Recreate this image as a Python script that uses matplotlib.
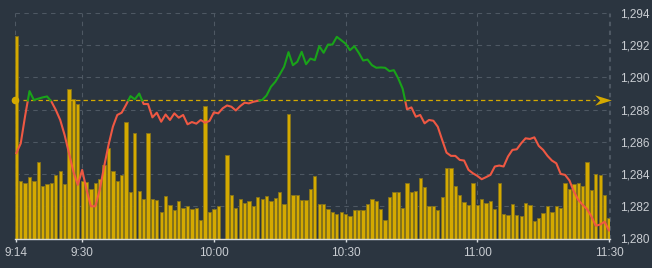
import numpy as np
import matplotlib
matplotlib.use('Agg')
import matplotlib.pyplot as plt
from matplotlib.path import Path
from matplotlib.transforms import blended_transform_factory

#---------------------------------------------------------
# data (one point / bar per minute)
#---------------------------------------------------------

price = [
    1285.3, 1285.9, 1287.6, 1289.15, 1288.6, 1288.68, 1288.76, 1288.82, 1288.5, 1287.98,
    1287.36, 1286.43, 1285.29, 1284.16, 1283.33, 1284.26, 1283.02, 1282.0, 1282.0, 1283.02,
    1284.47, 1285.8, 1286.94, 1287.67, 1287.81, 1288.3, 1288.84, 1288.64, 1289.0, 1288.35,
    1288.35, 1287.52, 1287.81, 1287.25, 1287.7, 1287.36, 1287.77, 1287.5, 1287.67, 1287.09,
    1287.23, 1287.13, 1287.36, 1287.19, 1287.3, 1287.83, 1287.77, 1288.08, 1288.26, 1288.18,
    1287.95, 1288.22, 1288.43, 1288.39, 1288.49, 1288.55, 1288.6, 1288.88, 1289.42, 1289.73,
    1290.18, 1290.66, 1291.57, 1290.76, 1290.97, 1291.59, 1290.82, 1291.17, 1291.07, 1291.94,
    1291.53, 1292.04, 1292.04, 1292.52, 1292.31, 1292.1, 1291.69, 1291.94, 1291.53, 1291.05,
    1291.11, 1290.76, 1290.6, 1290.62, 1290.6, 1290.39, 1290.45, 1289.94, 1289.3, 1288.02,
    1288.14, 1287.56, 1287.67, 1287.15, 1287.36, 1287.31, 1286.94, 1286.12, 1285.33, 1285.13,
    1285.13, 1284.88, 1284.84, 1284.26, 1284.05, 1283.89, 1283.68, 1283.81, 1283.95, 1284.47,
    1284.53, 1284.47, 1285.09, 1285.5, 1285.54, 1285.91, 1286.22, 1286.18, 1286.28, 1285.75,
    1285.5, 1285.13, 1284.84, 1284.67, 1284.01, 1283.95, 1283.6, 1282.92, 1282.4, 1282.09,
    1281.82, 1281.37, 1280.79, 1280.87, 1281.04, 1280.5,
]

volume = [
    203, 58, 56, 62, 58, 77, 53, 55, 56, 64,
    68, 55, 150, 140, 135, 58, 57, 50, 56, 60,
    74, 91, 68, 58, 64, 117, 47, 106, 48, 40,
    106, 40, 39, 27, 43, 34, 29, 38, 31, 33,
    30, 31, 19, 133, 27, 30, 33, 0, 84, 44,
    31, 40, 36, 38, 33, 42, 40, 43, 38, 41,
    47, 35, 125, 44, 44, 39, 39, 50, 63, 35,
    35, 30, 27, 25, 27, 25, 23, 29, 29, 29,
    35, 40, 38, 30, 19, 42, 47, 47, 31, 56,
    47, 48, 61, 52, 33, 33, 29, 42, 71, 71,
    53, 44, 37, 34, 56, 34, 40, 36, 38, 30,
    56, 25, 24, 35, 24, 23, 36, 34, 18, 21,
    26, 33, 27, 33, 31, 56, 50, 55, 56, 53,
    77, 49, 65, 64, 44, 21,
]

base_price = 1288.57          # previous close / reference line
tick_pos = [0, 15, 45, 75, 105, 135]
tick_labels = ['9:14', '9:30', '10:00', '10:30', '11:00', '11:30']
price_ticks = [1280, 1282, 1284, 1286, 1288, 1290, 1292, 1294]

#---------------------------------------------------------
# colours
#---------------------------------------------------------

BG = '#2b3540'
GRID = '#4e5863'
TXT = '#c9cdd2'
GOLD = '#d4a900'
BAR_EDGE = '#85731b'
UP = '#19a319'
DOWN = '#ef5843'

plt.rcParams['font.family'] = ['Liberation Sans', 'DejaVu Sans']

def split_at_base(xs, ys, base):
    """insert the crossing points so the line can be coloured above / below base"""
    nx, ny = [xs[0]], [ys[0]]
    for k in range(1, len(xs)):
        y0, y1 = ys[k-1], ys[k]
        if (y0 - base) * (y1 - base) < 0:
            t = (base - y0) / (y1 - y0)
            nx.append(xs[k-1] + t * (xs[k] - xs[k-1]))
            ny.append(base)
        nx.append(xs[k])
        ny.append(ys[k])
    nx = np.array(nx)
    ny = np.array(ny)
    above = np.where(ny >= base - 1e-9, ny, np.nan)
    below = np.where(ny <= base + 1e-9, ny, np.nan)
    return nx, above, below

x = np.arange(len(price))

fig = plt.figure(figsize=(6.52, 2.68), dpi=100, facecolor=BG)
ax = fig.add_axes([15.3/652, (268-238.5)/268, 595/652, 225.5/268], facecolor=BG)
axp = ax.twinx()

# volume bars (back)
ax.bar(x, volume, width=0.75, color=GOLD, edgecolor=BAR_EDGE, linewidth=0.6, zorder=3)
ax.set_ylim(0, 225.5)
ax.set_yticks([])
ax.set_xlim(-0.23, 135.3)

# grid below the bars
hz = blended_transform_factory(ax.transAxes, axp.transData)
axp.set_ylim(1280, 1294)
for p in price_ticks[1:]:
    ax.plot([0, 1], [p, p], transform=hz, color=GRID, lw=0.8, dashes=(4, 4), zorder=1)
for t in tick_pos[1:]:
    ax.axvline(t, color=GRID, lw=0.8, dashes=(4, 4), zorder=1)
ax.axvline(-0.23, color=GRID, lw=0.8, dashes=(4, 4), zorder=1)
ax.axvline(135.3, color=GRID, lw=0.8, dashes=(4, 4), zorder=1, clip_on=False)

# price line coloured against the reference price
lx, up_y, down_y = split_at_base(x, price, base_price)
axp.plot(lx, down_y, color=DOWN, lw=1.5, solid_joinstyle='round', zorder=4)
axp.plot(lx, up_y, color=UP, lw=1.5, solid_joinstyle='round', zorder=4)

# reference line with dot and arrow
axp.axhline(base_price, xmin=0.013, xmax=0.975, color=GOLD, lw=0.9, dashes=(3.5, 2.5), zorder=3)
bt = blended_transform_factory(axp.transAxes, axp.transData)
arrow = Path([(1, 0), (-1, 0.62), (-0.4, 0), (-1, -0.62), (1, 0)],
             [Path.MOVETO, Path.LINETO, Path.LINETO, Path.LINETO, Path.CLOSEPOLY])
axp.plot([0.988], [base_price], transform=bt, marker=arrow, markersize=12,
         color=GOLD, markeredgewidth=0, clip_on=False, zorder=5)
axp.plot([-0.0013], [base_price], transform=bt, marker='o', markersize=5.5,
         color=GOLD, markeredgewidth=0, clip_on=False, zorder=5)

# axes styling
for a in (ax, axp):
    for s in a.spines.values():
        s.set_visible(False)
ax.spines['bottom'].set_visible(True)
ax.spines['bottom'].set_color('#d8dcdf')
ax.spines['bottom'].set_linewidth(1.0)
ax.spines['bottom'].set_zorder(6)

ax.set_xticks(tick_pos)
ax.set_xticklabels(tick_labels)
ax.tick_params(axis='x', colors='#d8dcdf', labelcolor=TXT, length=2.5, width=1,
               pad=3.5, labelsize=8.5)

axp.set_yticks(price_ticks)
axp.set_yticklabels(['{:,}'.format(v) for v in price_ticks])
axp.tick_params(axis='y', length=0, pad=7, labelcolor=TXT, labelsize=8.5)

fig.savefig('out.png', dpi=100, facecolor=BG)
